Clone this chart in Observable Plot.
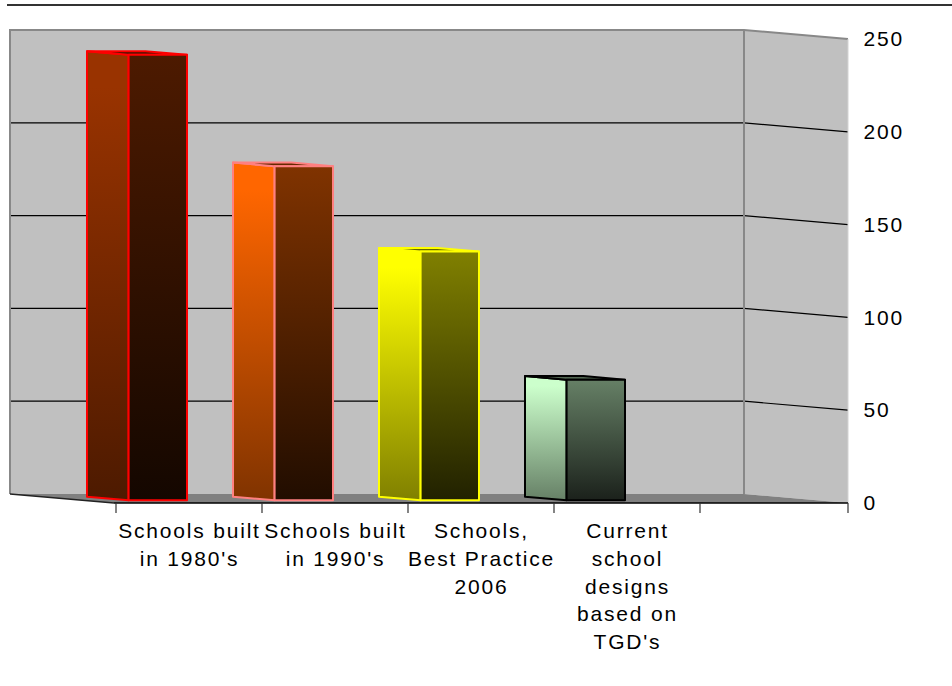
<!DOCTYPE html>
<html><head><meta charset="utf-8">
<script src="https://cdn.jsdelivr.net/npm/d3@7"></script>
<script src="https://cdn.jsdelivr.net/npm/@observablehq/plot@0.6"></script>
<style>
html,body{margin:0;padding:0;background:#fff;}
#wrap{position:relative;width:952px;height:686px;overflow:hidden;}
#topline{position:absolute;left:7px;right:0;top:4px;height:0;border-top:2px solid #333;}
</style></head><body>
<div id="wrap"><div id="chart"></div><div id="topline"></div></div>
<script>
// ---- data ----
const categories = ["Schools built in 1980's", "Schools built in 1990's", "Schools, Best Practice 2006", "Current school designs based on TGD's"];
const labelLines = ["Schools built\nin 1980's", "Schools built\nin 1990's", "Schools,\nBest Practice\n2006", "Current\nschool\ndesigns\nbased on\nTGD's"];
const values = [240, 180, 134, 65];
const faceColors = ["#993300", "#FF6600", "#FFFF00", "#CCFFCC"];
const edgeColors = ["#FF0000", "#FF8080", "#FFFF00", "#000000"];
const yTicks = [0, 50, 100, 150, 200, 250];
const xDomain = [...categories, ""];

// ---- pseudo-3D projection (styling) ----
const DX = -104, DY = -9;          // full depth offset of the back wall
const BAR_FRONT = 0.3, BAR_BACK = 0.7, BAR_WIDTH = 0.4;

const data = categories.map((c, i) => ({category: c, value: values[i], color: faceColors[i], edge: edgeColors[i], label: labelLines[i]}));

function shade(hex, k) { const c = d3.rgb(hex); return d3.rgb(c.r * k, c.g * k, c.b * k).formatHex(); }
const P = (pts) => "M" + pts.map(p => p.join(",")).join("L") + "Z";

function gradientDefs() {
  const defs = d3.create("svg:defs");
  data.forEach((d, i) => {
    const side = defs.append("linearGradient").attr("id", `side${i}`).attr("x1", 0).attr("y1", 0).attr("x2", 0).attr("y2", 1);
    side.append("stop").attr("offset", 0).attr("stop-color", d.color);
    side.append("stop").attr("offset", 0.08).attr("stop-color", d.color);
    side.append("stop").attr("offset", 1).attr("stop-color", shade(d.color, 0.5));
    const front = defs.append("linearGradient").attr("id", `front${i}`).attr("x1", 0).attr("y1", 0).attr("x2", 0).attr("y2", 1);
    front.append("stop").attr("offset", 0).attr("stop-color", shade(d.color, 0.5));
    front.append("stop").attr("offset", 1).attr("stop-color", shade(d.color, 0.13));
  });
  return defs.node();
}

function walls(index, scales, values, dim) {
  const {width, marginLeft, marginRight} = dim;
  const x0 = marginLeft, x1 = width - marginRight;
  const y = scales.y;
  const yb = y(yTicks[0]), yt = y(yTicks[yTicks.length - 1]);
  const g = d3.create("svg:g");
  g.append("path").attr("d", P([[x0 + DX, yt + DY], [x1 + DX, yt + DY], [x1 + DX, yb + DY], [x0 + DX, yb + DY]])).attr("fill", "#c0c0c0");
  g.append("path").attr("d", P([[x1 + DX, yt + DY], [x1, yt], [x1, yb], [x1 + DX, yb + DY]])).attr("fill", "#c0c0c0");
  g.append("path").attr("d", P([[x0 + DX, yb + DY], [x1 + DX, yb + DY], [x1, yb], [x0, yb]])).attr("fill", "#808080");
  for (const t of yTicks.slice(1, -1)) {
    const yy = y(t);
    g.append("path").attr("d", `M${x0 + DX},${yy + DY}L${x1 + DX},${yy + DY}L${x1},${yy}`)
      .attr("fill", "none").attr("stroke", "#000").attr("stroke-width", 1.2);
  }
  g.append("path").attr("d", `M${x0 + DX},${yb + DY}L${x0 + DX},${yt + DY}L${x1 + DX},${yt + DY}L${x1},${yt}`)
    .attr("fill", "none").attr("stroke", "#888").attr("stroke-width", 2);
  g.append("line").attr("x1", x1 + DX).attr("x2", x1 + DX).attr("y1", yt + DY).attr("y2", yb + DY).attr("stroke", "#888").attr("stroke-width", 2);
  g.append("line").attr("x1", x1).attr("x2", x1).attr("y1", yt).attr("y2", yb).attr("stroke", "#d4d4d4").attr("stroke-width", 1);
  g.append("line").attr("x1", x0 + DX).attr("y1", yb + DY).attr("x2", x0).attr("y2", yb).attr("stroke", "#222").attr("stroke-width", 1.5);
  return g.node();
}

function bars3d(index, scales, values, dim) {
  const g = d3.create("svg:g");
  const bw = scales.x.bandwidth ? scales.x.bandwidth() : (dim.width - dim.marginLeft - dim.marginRight) / xDomain.length;
  const y0 = scales.y(0);
  const fx = BAR_FRONT * DX, fy = BAR_FRONT * DY, bx = BAR_BACK * DX, by = BAR_BACK * DY;
  for (const i of index) {
    const d = data[i];
    const s = scales.x(d.category);
    const xa = s + bw * (0.5 - BAR_WIDTH / 2), xb = s + bw * (0.5 + BAR_WIDTH / 2);
    const yt = scales.y(d.value);
    const common = (sel) => sel.attr("stroke", d.edge).attr("stroke-width", 2).attr("stroke-linejoin", "round");
    common(g.append("path").attr("d", P([[xa + bx, yt + by], [xa + fx, yt + fy], [xa + fx, y0 + fy], [xa + bx, y0 + by]])).attr("fill", `url(#side${i})`));
    common(g.append("path").attr("d", P([[xa + bx, yt + by], [xb + bx, yt + by], [xb + fx, yt + fy], [xa + fx, yt + fy]])).attr("fill", shade(d.color, 0.4)));
    common(g.append("path").attr("d", P([[xa + fx, yt + fy], [xb + fx, yt + fy], [xb + fx, y0 + fy], [xa + fx, y0 + fy]])).attr("fill", `url(#front${i})`));
  }
  return g.node();
}

function axisLine(index, scales, values, dim) {
  const {width, marginLeft, marginRight} = dim;
  const x0 = marginLeft, x1 = width - marginRight;
  const yb = scales.y(yTicks[0]);
  const g = d3.create("svg:g");
  g.append("line").attr("x1", x0).attr("x2", x1).attr("y1", yb).attr("y2", yb).attr("stroke", "#000").attr("stroke-width", 1.5);
  const edges = [...xDomain.map(c => scales.x(c)), x1];
  for (const e of edges) {
    g.append("line").attr("x1", e).attr("x2", e).attr("y1", yb).attr("y2", yb + 10).attr("stroke", "#333").attr("stroke-width", 1.2);
  }
  return g.node();
}

const chart = Plot.plot({
  width: 952,
  height: 686,
  marginLeft: 114,
  marginRight: 104,
  marginTop: 39,
  marginBottom: 183,
  style: {fontFamily: "'Liberation Sans', Arial, sans-serif", letterSpacing: "1.8px", background: "transparent", color: "#000"},
  x: {type: "band", domain: xDomain, padding: 0, axis: null},
  y: {domain: [0, 250], axis: null},
  marks: [
    gradientDefs,
    walls,
    Plot.barY(data, {x: "category", y: "value", render: bars3d}),
    axisLine,
    Plot.axisY(yTicks, {anchor: "right", tickSize: 0, tickPadding: 15, fontSize: 21, label: null, fill: "#000"}),
    Plot.text(data, {x: "category", text: "label", frameAnchor: "bottom", lineAnchor: "top", dy: 15, lineHeight: 1.32, fontSize: 21, fill: "#000"})
  ]
});
document.getElementById("chart").appendChild(chart);
</script>
</body></html>
